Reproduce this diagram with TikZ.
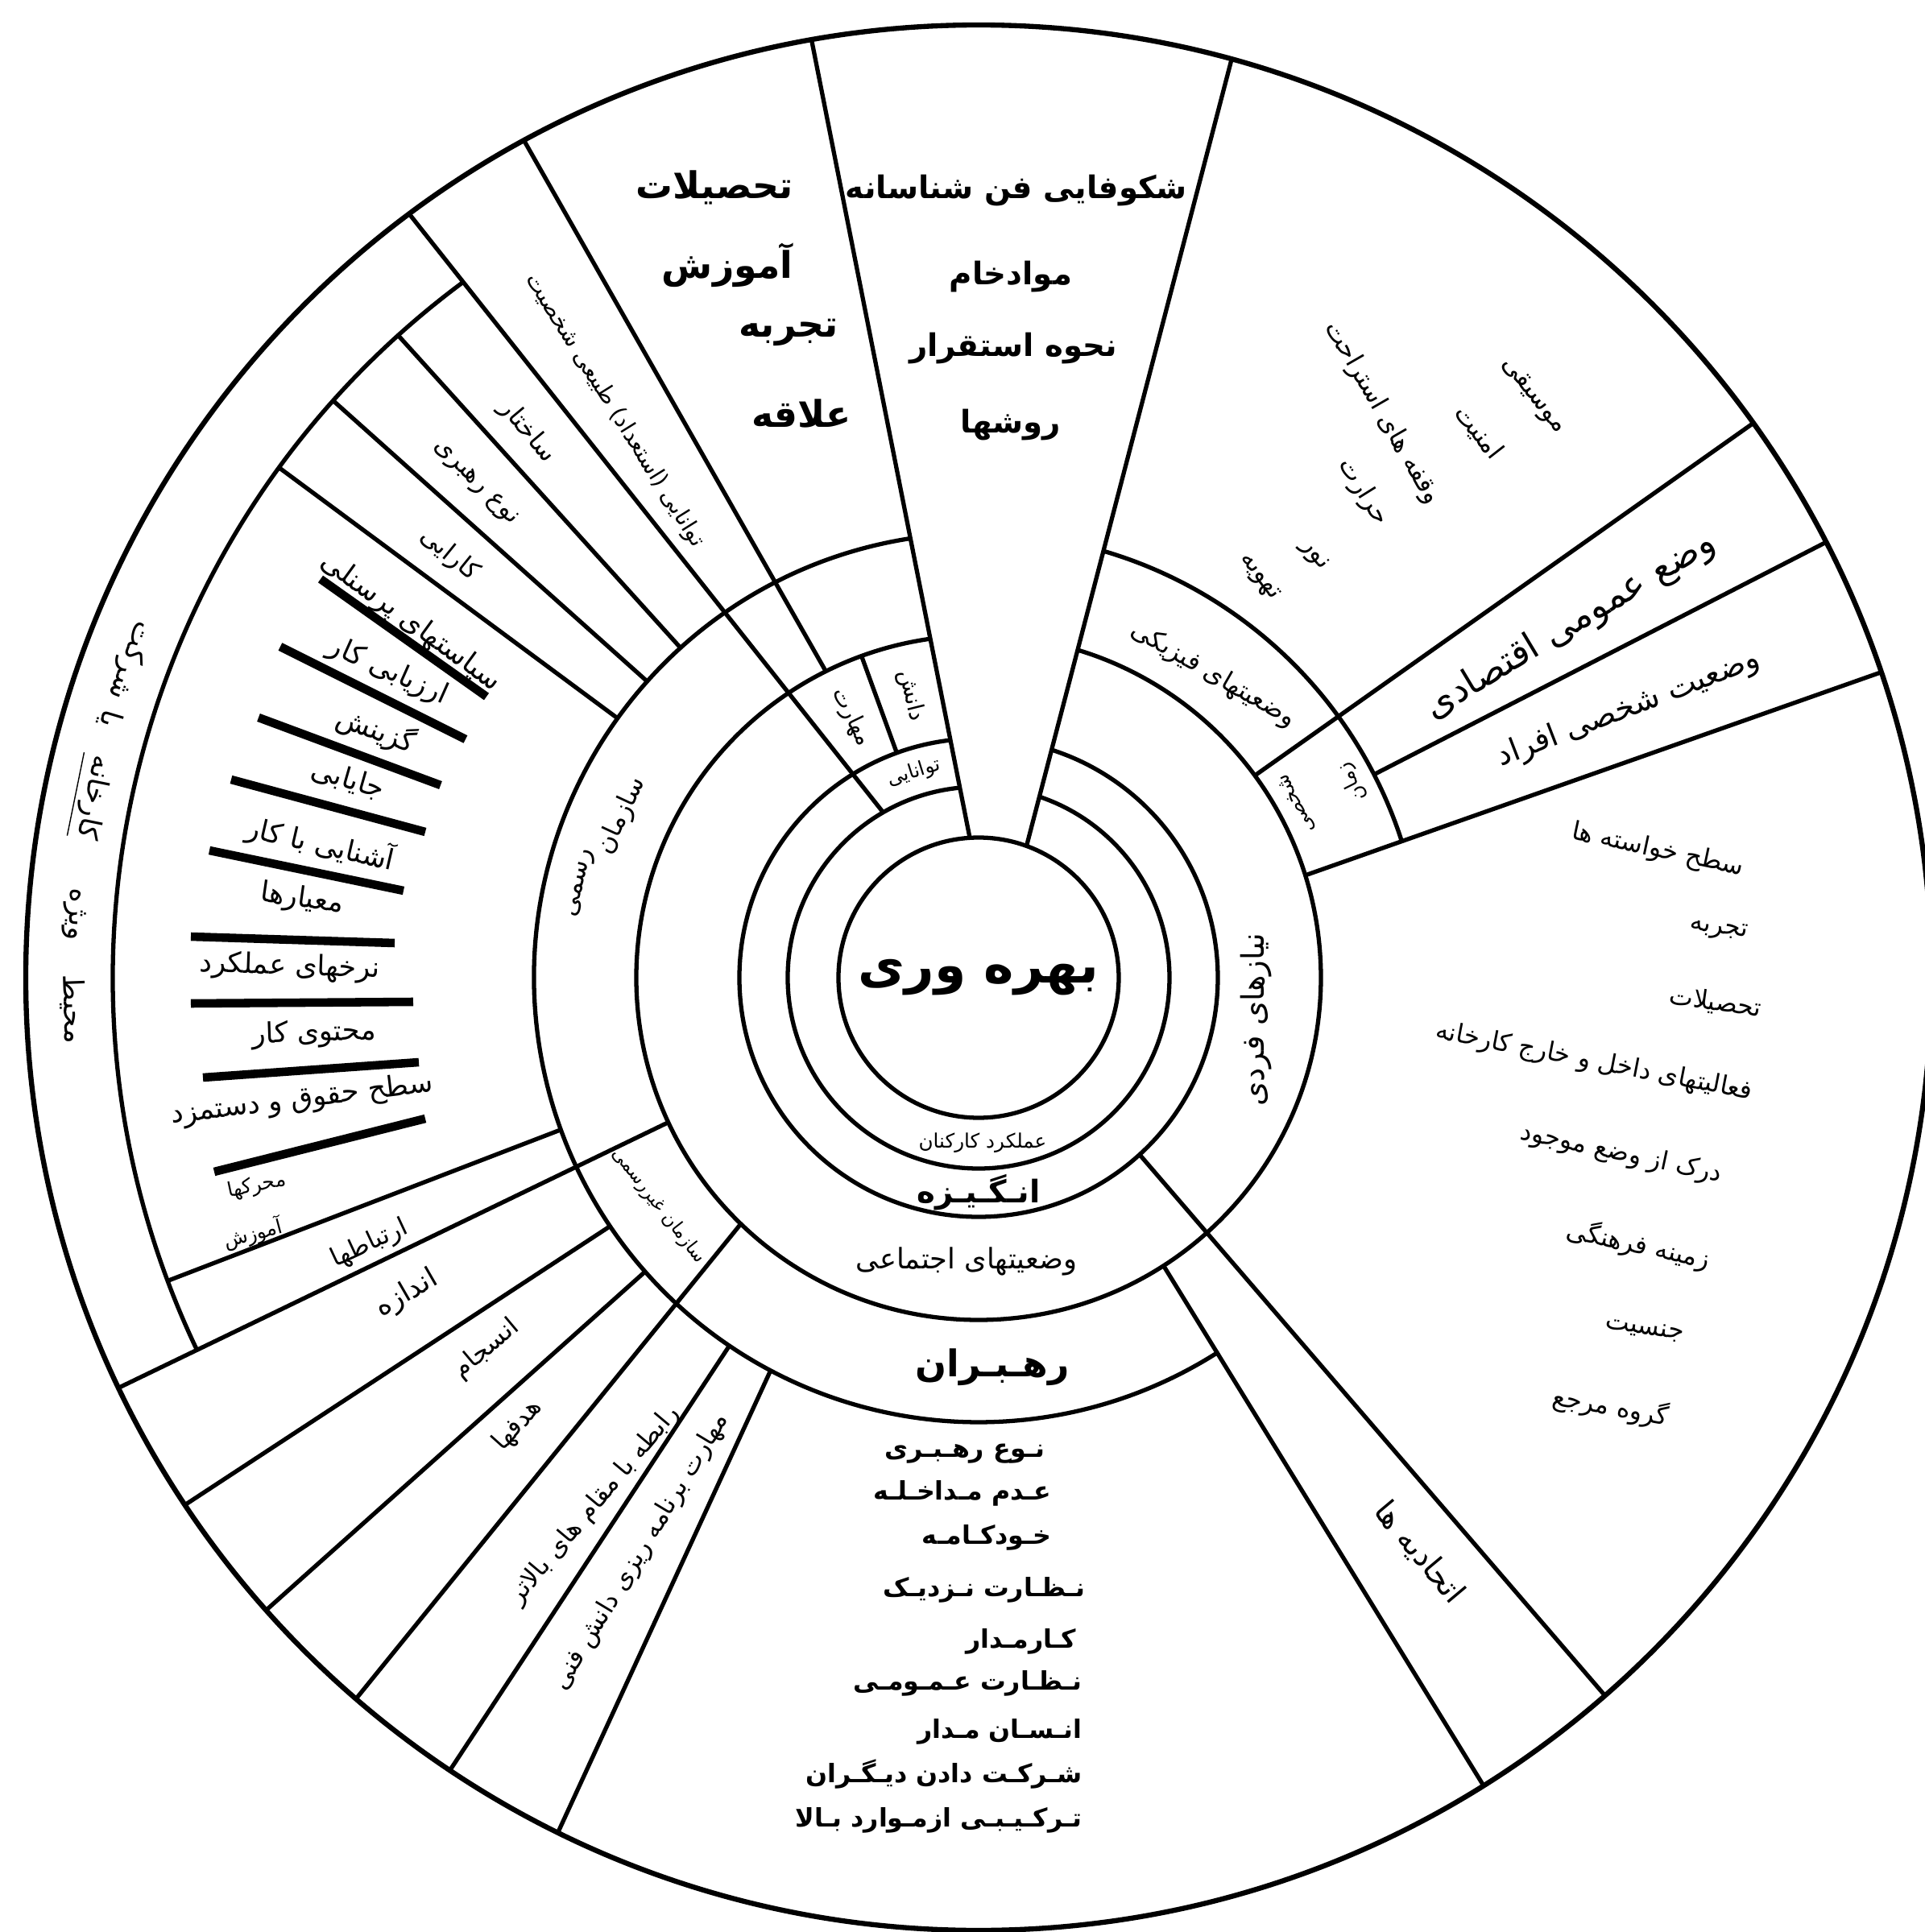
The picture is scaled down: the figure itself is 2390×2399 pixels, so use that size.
\documentclass[tikz,border=0pt]{standalone}
\usepackage{fontspec}
\newfontfamily\fa[Script=Arabic]{DejaVu Sans}
\TeXXeTstate=1
\newcommand{\fx}[1]{{\fa\beginR #1\endR}}

\begin{document}
\begin{tikzpicture}[
    x=0.01cm, y=0.01cm, line width=1.5pt,
    bar/.style={line width=3pt},
    lbl/.style={inner sep=0pt, font=\fontsize{#1}{#1}\selectfont},
    lbl/.default=10,
    blbl/.style={inner sep=0pt, font=\fontsize{#1}{#1}\selectfont\bfseries}
]
  \useasboundingbox (-1215,-1185) rectangle (1175,1214);

  % rings round the centre
  \draw (0,0) circle[radius=174];
  \draw (0,0) circle[radius=237];
  \draw (0,0) circle[radius=297];
  \draw (0,0) circle[radius=425];
  \draw (98.8:552) arc[start angle=98.8, end angle=302.7, radius=552];
  \draw (18:552) arc[start angle=18, end angle=74, radius=552];
  \draw (126.6:1075) arc[start angle=126.6, end angle=205.5, radius=1075];
  \draw[line width=1.8pt] (0,0) circle[radius=1183];

  % funnel on top
  \fill[white] (93.6:180) -- (100:1165) -- (74.6:1165) -- (70:180)
    arc[start angle=70, end angle=93.6, radius=180] -- cycle;
  \draw (93.6:174) -- (100.1:1183);
  \draw (70:174) -- (74.6:1183);

  % spokes
  \draw (118.5:1183) -- (116.5:425);
  \draw (126.7:1183) -- (120:237);
  \draw (110:297) -- (110:425);
  \draw (132.1:1075) -- (132.1:552);
  \draw (138.2:1075) -- (138.2:552);
  \draw (143.9:1075) -- (144.3:552);
  \draw (200.5:1075) -- (200:552);
  \draw (205.5:1183) -- (205:425);
  \draw (213.6:1183) -- (214:552);
  \draw (221.6:1183) -- (221.4:552);
  \draw (229.2:1183) -- (226:425);
  \draw (236.3:1183) -- (235.9:552);
  \draw (243.8:1183) -- (242.1:552);
  \draw (302:1183) -- (302.7:425);
  \draw (311.1:1183) -- (312.3:297);
  \draw (18.7:1183) -- (17.4:425);
  \draw (27.2:1183) -- (27.2:552);
  \draw (35.6:1183) -- (36.2:425);

  % bars in the personnel list
  \draw[bar] (-817,495) -- (-611,349);
  \draw[bar] (-867,411) -- (-637,296);
  \draw[bar] (-894,323) -- (-668,239);
  \draw[bar] (-928,246) -- (-687,181);
  \draw[bar] (-955,158) -- (-714,108);
  \draw[bar] (-978,51) -- (-725,43);
  \draw[bar] (-978,-32) -- (-702,-30);
  \draw[bar] (-963,-124) -- (-695,-105);
  \draw[bar] (-949,-241) -- (-687,-175);

  % centre and inner rings
  \node[blbl=18] (core) at (0,0) {\fx{بهره وری}};
  \node[lbl=7] (perf) at (5,-205) {\fx{عملکرد کارکنان}};
  \node[blbl=11] (motiv) at (0,-267) {\fx{انـگـیـزه}};
  \node[lbl=10] (social) at (-15,-352) {\fx{وضعیتهای اجتماعی}};
  \node[blbl=13] (lead) at (17,-484) {\fx{رهـبـران}};
  \node[lbl=7, rotate=17.5] (abil) at (107.5:267) {\fx{توانایی}};
  \node[lbl=8, rotate=-64] (skill) at (116:360) {\fx{مهارت}};
  \node[lbl=8, rotate=-76] (know) at (103.5:360) {\fx{دانش}};
  \node[lbl=11, rotate=90] (needs) at (345,-52) {\fx{نیازهای فردی}};
  \node[lbl=9, rotate=-30] (phys) at (291,376) {\fx{وضعیتهای فیزیکی}};
  \node[lbl=7, rotate=117] (pself) at (395,216) {\fx{شخصی}};
  \node[lbl=7, rotate=117] (ptime) at (464,243) {\fx{زمان}};
  \node[lbl=9, rotate=65] (formal) at (-443,201) {\fx{سازمان}};
  \node[lbl=9, rotate=77] (formalb) at (-493,117) {\fx{رسمی}};
  \node[lbl=6.5, rotate=-52] (informal) at (215.5:488) {\fx{سازمان غیررسمی}};

  % funnel texts
  \node[blbl=11] (tech1) at (47,977) {\fx{شکوفایی فن شناسانه}};
  \node[blbl=11] (tech2) at (40,870) {\fx{موادخام}};
  \node[blbl=11] (tech3) at (43,781) {\fx{نحوه استقرار}};
  \node[blbl=11] (tech4) at (40,686) {\fx{روشها}};

  % upper left cell and strips
  \node[blbl=13] (edu1) at (-328,981) {\fx{تحصیلات}};
  \node[blbl=13] (edu2) at (-312,885) {\fx{آموزش}};
  \node[blbl=13] (edu3) at (-236,801) {\fx{تجربه}};
  \node[blbl=13] (edu4) at (-220,701) {\fx{علاقه}};
  \node[lbl=8, rotate=-58] (talent) at (-452,704) {\fx{توانایی (استعداد) طبیعی شخصیت}};
  \node[lbl=9, rotate=-50] (struct) at (-560,678) {\fx{ساختار}};
  \node[lbl=9, rotate=-45] (lstyle) at (-625,614) {\fx{نوع رهبری}};
  \node[lbl=9, rotate=-39] (effic) at (-657,525) {\fx{کارایی}};
  \node[lbl=10, rotate=-36] (policy) at (-705,441) {\fx{سیاستهای پرسنلی}};

  % personnel list
  \node[lbl=10, rotate=-24] (p1) at (-733,380) {\fx{ارزیابی کار}};
  \node[lbl=10, rotate=-20] (p2) at (-748,307) {\fx{گزینش}};
  \node[lbl=10, rotate=-16] (p3) at (-783,246) {\fx{جایابی}};
  \node[lbl=10, rotate=-13] (p4) at (-817,166) {\fx{آشنایی با کار}};
  \node[lbl=10, rotate=-8] (p5) at (-840,97) {\fx{معیارها}};
  \node[lbl=10, rotate=-2] (p6) at (-855,13) {\fx{نرخهای عملکرد}};
  \node[lbl=10, rotate=2] (p7) at (-825,-70) {\fx{محتوی کار}};
  \node[lbl=10, rotate=7] (p8) at (-840,-152) {\fx{سطح حقوق و دستمزد}};
  \node[lbl=7, rotate=12] (p9) at (-896,-259) {\fx{محرکها}};
  \node[lbl=7, rotate=15] (p10) at (-901,-318) {\fx{آموزش}};

  % outer band
  \node[lbl=10, rotate=-88] (out1) at (182:1125) {\fx{محیط}};
  \node[lbl=10, rotate=-94] (out2) at (176:1125) {\fx{ویژه}};
  \node[lbl=10, rotate=-101.5] (out3) at (168.5:1125) {\underline{\fx{کارخانه}}};
  \node[lbl=10, rotate=-106.6] (out4) at (163.4:1125) {\fx{یا}};
  \node[lbl=10, rotate=-110.5] (out5) at (159.5:1125) {\fx{شرکت}};

  % lower left fan
  \node[lbl=9, rotate=25] (c1) at (-756,-331) {\fx{ارتباطها}};
  \node[lbl=10, rotate=30] (c2) at (-710,-393) {\fx{اندازه}};
  \node[lbl=9, rotate=40] (c3) at (-611,-461) {\fx{انسجام}};
  \node[lbl=9, rotate=48] (c4) at (-572,-556) {\fx{هدفها}};
  \node[lbl=9, rotate=50] (c5) at (-477,-655) {\fx{رابطه با مقام های بالاتر}};
  \node[lbl=9, rotate=59] (c6) at (-419,-713) {\fx{مهارت برنامه ریزی دانش فنی}};

  % leadership list
  \node[blbl=9, anchor=east] (b1) at (85,-591) {\fx{نـوع رهـبـری}};
  \node[blbl=9, anchor=east] (b2) at (93,-640) {\fx{عـدم مـداخـلـه}};
  \node[blbl=9, anchor=east] (b3) at (93,-695) {\fx{خـودکـامـه}};
  \node[blbl=9, anchor=east] (b4) at (135,-760) {\fx{نـظـارت نـزدیـک}};
  \node[blbl=9, anchor=east] (b5) at (124,-824) {\fx{کـارمـدار}};
  \node[blbl=9, anchor=east] (b6) at (131,-876) {\fx{نـظـارت عـمـومـی}};
  \node[blbl=9, anchor=east] (b7) at (131,-936) {\fx{انـسـان مـدار}};
  \node[blbl=9, anchor=east] (b8) at (131,-989) {\fx{شـرکـت دادن دیـگـران}};
  \node[blbl=9, anchor=east] (b9) at (131,-1046) {\fx{تـرکـیـبـی ازمـوارد بـالا}};

  % unions
  \node[lbl=11, rotate=-50] (union) at (547,-714) {\fx{اتحادیه ها}};

  % physical conditions
  \node[lbl=9, rotate=-52] (env1) at (688,722) {\fx{موسیقی}};
  \node[lbl=9, rotate=-52] (env2) at (621,677) {\fx{امنیت}};
  \node[lbl=9, rotate=-60] (env3) at (501,701) {\fx{وقفه های استراحت}};
  \node[lbl=9, rotate=-58] (env4) at (478,603) {\fx{حرارت}};
  \node[lbl=9, rotate=-50] (env5) at (416,524) {\fx{نور}};
  \node[lbl=9, rotate=-52] (env6) at (348,497) {\fx{تهویه}};
  \node[lbl=13, rotate=31] (econ) at (735,437) {\fx{وضع عمومی اقتصادی}};
  \node[lbl=11, rotate=21] (pstat) at (807,334) {\fx{وضعیت شخصی افراد}};

  % individual needs list
  \node[lbl=9, rotate=-12] (r1) at (843,158) {\fx{سطح خواسته ها}};
  \node[lbl=9, rotate=-8] (r2) at (919,59) {\fx{تجربه}};
  \node[lbl=9, rotate=-8] (r3) at (915,-31) {\fx{تحصیلات}};
  \node[lbl=9, rotate=-11] (r4) at (764,-105) {\fx{فعالیتهای داخل و خارج کارخانه}};
  \node[lbl=9, rotate=-12] (r5) at (798,-219) {\fx{درک از وضع موجود}};
  \node[lbl=9, rotate=-12] (r6) at (819,-332) {\fx{زمینه فرهنگی}};
  \node[lbl=9, rotate=-8] (r7) at (827,-437) {\fx{جنسیت}};
  \node[lbl=9, rotate=-10] (r8) at (785,-533) {\fx{گروه مرجع}};
\end{tikzpicture}
\end{document}
